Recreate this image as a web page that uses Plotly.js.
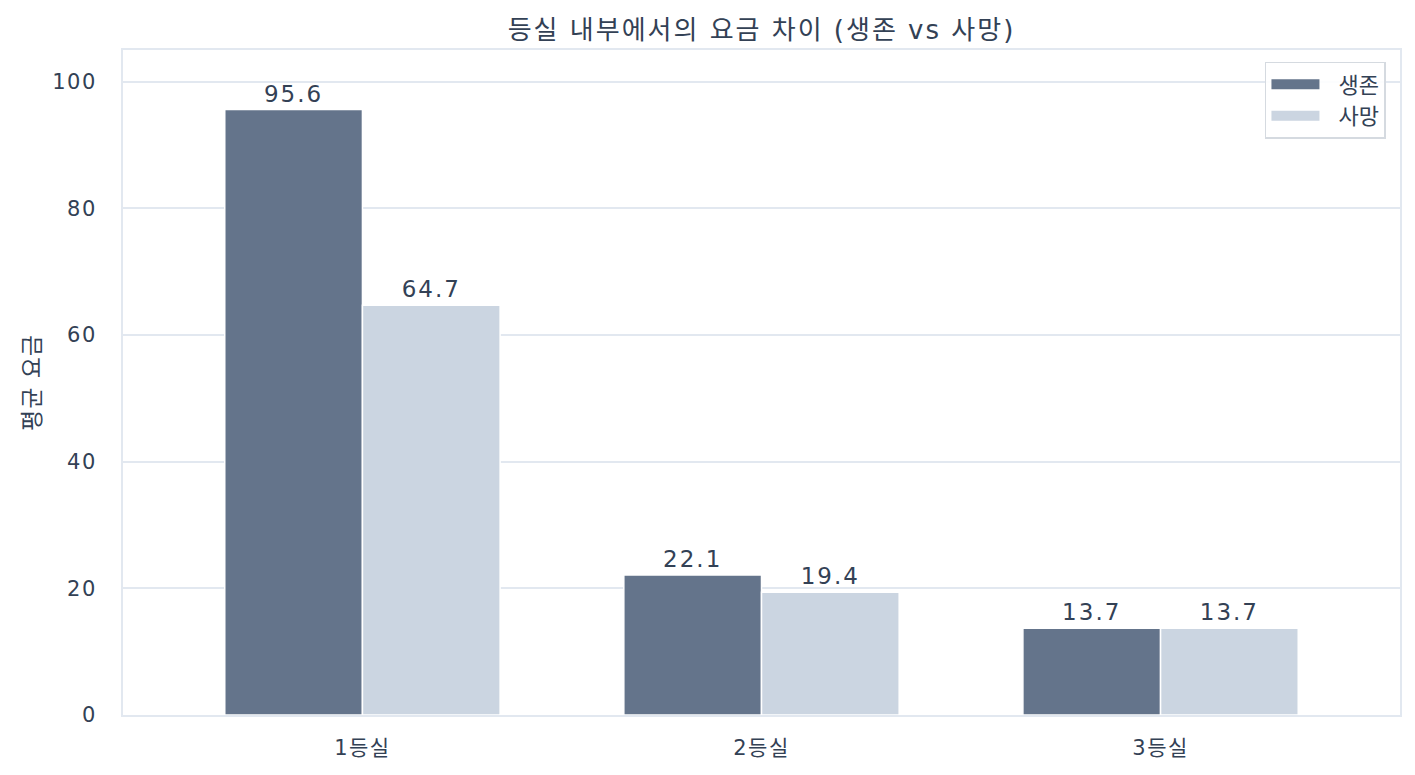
<!DOCTYPE html>
<html>
<head>
<meta charset="utf-8">
<script src="https://cdn.plot.ly/plotly-3.0.1.min.js"></script>
<style>
  html, body { margin: 0; padding: 0; background: #ffffff; }
  #chart { width: 1415px; height: 775px; }
  /* the original font sets its glyphs wider apart */
  #chart .gtitle { letter-spacing: 2px; }
  #chart .bartext { letter-spacing: 2px; }
  #chart .xtick text, #chart .ytick text { letter-spacing: 1.5px; }
  #chart .ytitle { letter-spacing: 1px; }
</style>
</head>
<body>
<div id="chart"></div>
<script>
// 등실별 평균 요금 (생존 / 사망)
var classes = ["1등실", "2등실", "3등실"];
var survived_fare = [95.6, 22.1, 13.7];
var died_fare = [64.7, 19.4, 13.7];
var series_names = ["생존", "사망"];

var font_family = "'DejaVu Sans', 'Noto Sans CJK KR', sans-serif";
var text_color = "#334155";
var frame_color = "#e2e8f0";
var survived_color = '#64748b';
var died_color = '#cbd5e1';

var survived_bar = {
    x: classes,
    y: survived_fare,
    name: series_names[0],
    type: 'bar',
    showlegend: false,
    marker: { color: survived_color, line: { color: '#ffffff', width: 1.5 } },
    text: survived_fare.map(function (v) { return v.toFixed(1); }),
    textposition: 'outside',
    cliponaxis: false,
    textfont: { family: font_family, size: 23, color: text_color }
};

var died_bar = {
    x: classes,
    y: died_fare,
    name: series_names[1],
    type: 'bar',
    showlegend: false,
    marker: { color: died_color, line: { color: '#ffffff', width: 1.5 } },
    text: died_fare.map(function (v) { return v.toFixed(1); }),
    textposition: 'outside',
    cliponaxis: false,
    textfont: { family: font_family, size: 23, color: text_color }
};

// legend entries drawn as thick line swatches (wide patches like the original)
var survived_key = {
    x: [null], y: [null], type: 'scatter', mode: 'lines',
    name: '\u00a0\u00a0' + series_names[0], hoverinfo: 'skip',
    line: { color: survived_color, width: 14 }
};
var died_key = {
    x: [null], y: [null], type: 'scatter', mode: 'lines',
    name: '\u00a0\u00a0' + series_names[1], hoverinfo: 'skip',
    line: { color: died_color, width: 14 }
};

var layout = {
    width: 1415,
    height: 775,
    margin: { l: 123, r: 15, t: 50, b: 60 },
    paper_bgcolor: '#ffffff',
    plot_bgcolor: '#ffffff',
    font: { family: font_family, size: 21, color: text_color },
    title: {
        text: '등실 내부에서의 요금 차이 (생존 vs 사망)',
        font: { family: font_family, size: 26, color: text_color },
        xref: 'paper',
        x: 0.5,
        xanchor: 'center',
        y: 0.962,
        yanchor: 'middle'
    },
    barmode: 'group',
    bargap: 0.31,
    bargroupgap: 0,
    showlegend: true,
    legend: {
        x: 0.989,
        y: 0.982,
        xanchor: 'right',
        yanchor: 'top',
        bgcolor: 'rgba(255,255,255,0.9)',
        bordercolor: '#d5dae0',
        borderwidth: 1.5,
        font: { family: font_family, size: 22, color: text_color },
        itemwidth: 48,
        tracegroupgap: 0
    },
    xaxis: {
        range: [-0.6, 2.6],
        showline: true,
        mirror: true,
        linecolor: frame_color,
        linewidth: 2,
        showgrid: false,
        ticks: 'outside',
        ticklen: 13,
        tickcolor: 'rgba(0,0,0,0)',
        tickfont: { family: font_family, size: 21, color: text_color }
    },
    yaxis: {
        range: [0, 105],
        tickvals: [0, 20, 40, 60, 80, 100],
        showline: true,
        mirror: true,
        linecolor: frame_color,
        linewidth: 2,
        showgrid: true,
        gridcolor: frame_color,
        gridwidth: 1.5,
        zeroline: false,
        ticks: 'outside',
        ticklen: 20,
        tickcolor: 'rgba(0,0,0,0)',
        tickfont: { family: font_family, size: 21, color: text_color },
        title: {
            text: '평균 요금',
            standoff: 10,
            font: { family: font_family, size: 23, color: text_color }
        }
    }
};

Plotly.newPlot('chart', [survived_bar, died_bar, survived_key, died_key], layout, { displayModeBar: false });
</script>
</body>
</html>
